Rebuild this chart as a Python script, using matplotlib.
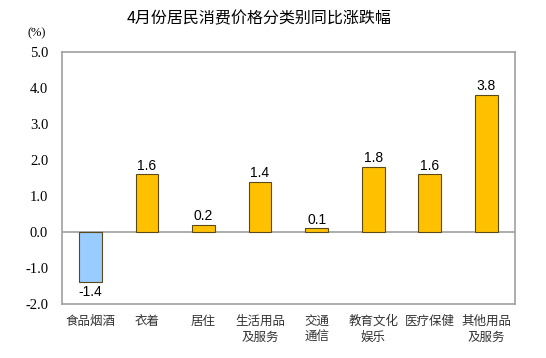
import matplotlib
matplotlib.use('Agg')
import matplotlib.pyplot as plt

plt.rcParams['font.family'] = ['Noto Sans CJK SC', 'DejaVu Sans']

# data
categories = ['食品烟酒', '衣着', '居住', '生活用品\n及服务', '交通\n通信',
              '教育文化\n娱乐', '医疗保健', '其他用品\n及服务']
values = [-1.4, 1.6, 0.2, 1.4, 0.1, 1.8, 1.6, 3.8]
yticks = [-2.0, -1.0, 0.0, 1.0, 2.0, 3.0, 4.0, 5.0]

colors = ['#99CCFF' if v < 0 else '#FFC000' for v in values]

fig = plt.figure(figsize=(5.46, 3.58), dpi=100)
ax = fig.add_axes([0.1136, 0.151, 0.829, 0.704])

x = range(len(values))
ax.bar(x, values, width=0.4, color=colors, edgecolor='#5a4a1a', linewidth=0.8, zorder=3)

# value labels
for i, v in enumerate(values):
    if v >= 0:
        ax.text(i, v + 0.05, f'{v:.1f}', ha='center', va='bottom',
                fontsize=10, family='Liberation Sans')
    else:
        ax.text(i, v - 0.08, f'{v:.1f}', ha='center', va='top',
                fontsize=10, family='Liberation Sans')

ax.axhline(0, color='#a0a0a0', linewidth=1.2, zorder=2)

ax.set_xlim(-0.5, len(values) - 0.5)
ax.set_ylim(-2.0, 5.0)
ax.set_yticks(yticks)
ax.set_yticklabels([f'{t:.1f}' for t in yticks], family='Liberation Serif', fontsize=10.5)
ax.set_xticks(list(x))
ax.set_xticklabels(categories, fontsize=9, linespacing=1.3, va='top', color='#333333')
ax.tick_params(axis='x', length=0, pad=8)
ax.tick_params(axis='y', length=0, pad=10)

for s in ax.spines.values():
    s.set_color('#a0a0a0')
    s.set_linewidth(1.2)

fig.text(0.475, 0.947, '4月份居民消费价格分类别同比涨跌幅', ha='center', va='center', fontsize=11.5)
fig.text(0.068, 0.908, '(%)', ha='center', va='center', fontsize=9, family='Liberation Serif')

fig.savefig('out.png', dpi=100)
